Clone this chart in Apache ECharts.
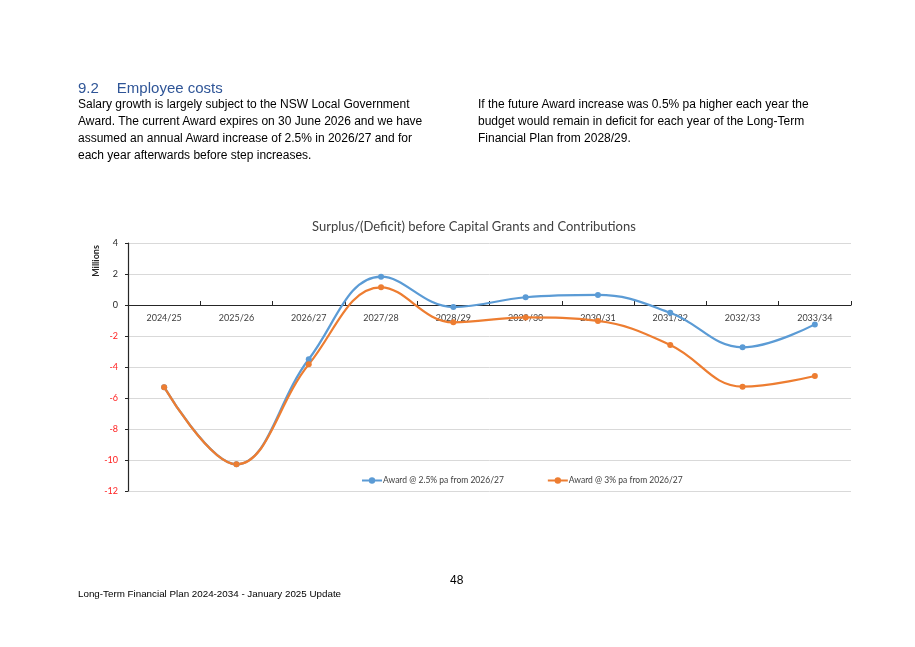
<!DOCTYPE html>
<html><head><meta charset="utf-8">
<script src="https://cdn.jsdelivr.net/npm/echarts@6/dist/echarts.min.js"></script>
<style>
html,body{margin:0;padding:0;background:#fff;width:915px;height:647px;overflow:hidden;font-family:"Liberation Sans",Arial,sans-serif;}
#chart{position:absolute;left:0;top:0;width:915px;height:647px;}
.t{position:absolute;color:#000;font-size:12px;line-height:17px;}
</style></head><body>
<div id="chart"></div>
<div class="t" style="left:78px;top:79px;font-size:15px;color:#2f5597;line-height:18px;">9.2<span style="display:inline-block;width:18px"></span>Employee costs</div>
<div class="t" style="left:78px;top:96px;width:360px;">Salary growth is largely subject to the NSW Local Government Award. The current Award expires on 30 June 2026 and we have assumed an annual Award increase of 2.5% in 2026/27 and for each year afterwards before step increases.</div>
<div class="t" style="left:478px;top:96px;width:350px;">If the future Award increase was 0.5% pa higher each year the budget would remain in deficit for each year of the Long-Term Financial Plan from 2028/29.</div>
<div class="t" style="left:450px;top:572px;font-size:12px;">48</div>
<div class="t" style="left:78px;top:585px;font-size:9.8px;">Long-Term Financial Plan 2024-2034 - January 2025 Update</div>
<script>
const categories = ['2024/25','2025/26','2026/27','2027/28','2028/29','2029/30','2030/31','2031/32','2032/33','2033/34'];
const seriesNames = ['Award @ 2.5% pa from 2026/27','Award @ 3% pa from 2026/27'];
const award25 = [-5.3,-10.28,-3.5,1.83,-0.13,0.5,0.65,-0.5,-2.73,-1.25];
const award3 = [-5.3,-10.28,-3.83,1.14,-1.12,-0.8,-1.03,-2.58,-5.27,-4.58];
const yTicks = {min:-12,max:4,interval:2};
const chartTitle = 'Surplus/(Deficit) before Capital Grants and Contributions';
const yName = 'Millions';

const gridTop = 243, gridBottom = 156, gridH = 647 - gridTop - gridBottom;
const zeroOffset = -(0 - yTicks.min) / (yTicks.max - yTicks.min) * gridH;

const chart = echarts.init(document.getElementById('chart'), null, {renderer:'canvas'});
const font = 'Lato, "Open Sans", sans-serif';
chart.setOption({
  animation:false,
  title:{text:chartTitle,left:307,top:215,textStyle:{fontFamily:font,fontSize:13,fontWeight:'normal',color:'#404040'}},
  legend:{top:471,left:356,itemGap:43,itemWidth:20,itemHeight:8,
    textStyle:{fontFamily:font,fontSize:8.5,color:'#404040',padding:[0,0,0,-4]},
    data:seriesNames},
  graphic:[{type:'text',x:96,y:261,rotation:Math.PI/2,
    style:{text:yName,align:'center',verticalAlign:'middle',fontFamily:font,fontSize:9,fontWeight:'bold',fill:'#262626'}}],
  grid:{left:128,right:64,top:gridTop,bottom:gridBottom,containLabel:false},
  xAxis:{type:'category',data:categories,boundaryGap:true,offset:zeroOffset,
    axisLine:{onZero:false,lineStyle:{color:'#262626',width:1.2}},
    axisTick:{show:true,inside:true,length:4,lineStyle:{color:'#262626'}},
    axisLabel:{fontFamily:font,fontSize:9,color:'#404040',margin:9}},
  yAxis:{type:'value',min:yTicks.min,max:yTicks.max,interval:yTicks.interval,
    axisLine:{show:true,lineStyle:{color:'#262626',width:1.2}},
    axisTick:{show:true,length:3,lineStyle:{color:'#262626'}},
    axisLabel:{fontFamily:font,fontSize:9,margin:10,color:function(v){return Number(v)<0?'#ff2020':'#262626';}},
    splitLine:{lineStyle:{color:'#d9d9d9'}}},
  series:[
    {name:seriesNames[0],type:'line',data:award25,smooth:0.4,symbol:'circle',symbolSize:6,
      lineStyle:{color:'#5b9bd5',width:2.25},itemStyle:{color:'#5b9bd5'}},
    {name:seriesNames[1],type:'line',data:award3,smooth:0.4,symbol:'circle',symbolSize:6,
      lineStyle:{color:'#ed7d31',width:2.25},itemStyle:{color:'#ed7d31'}}
  ]
});
</script>
</body></html>
